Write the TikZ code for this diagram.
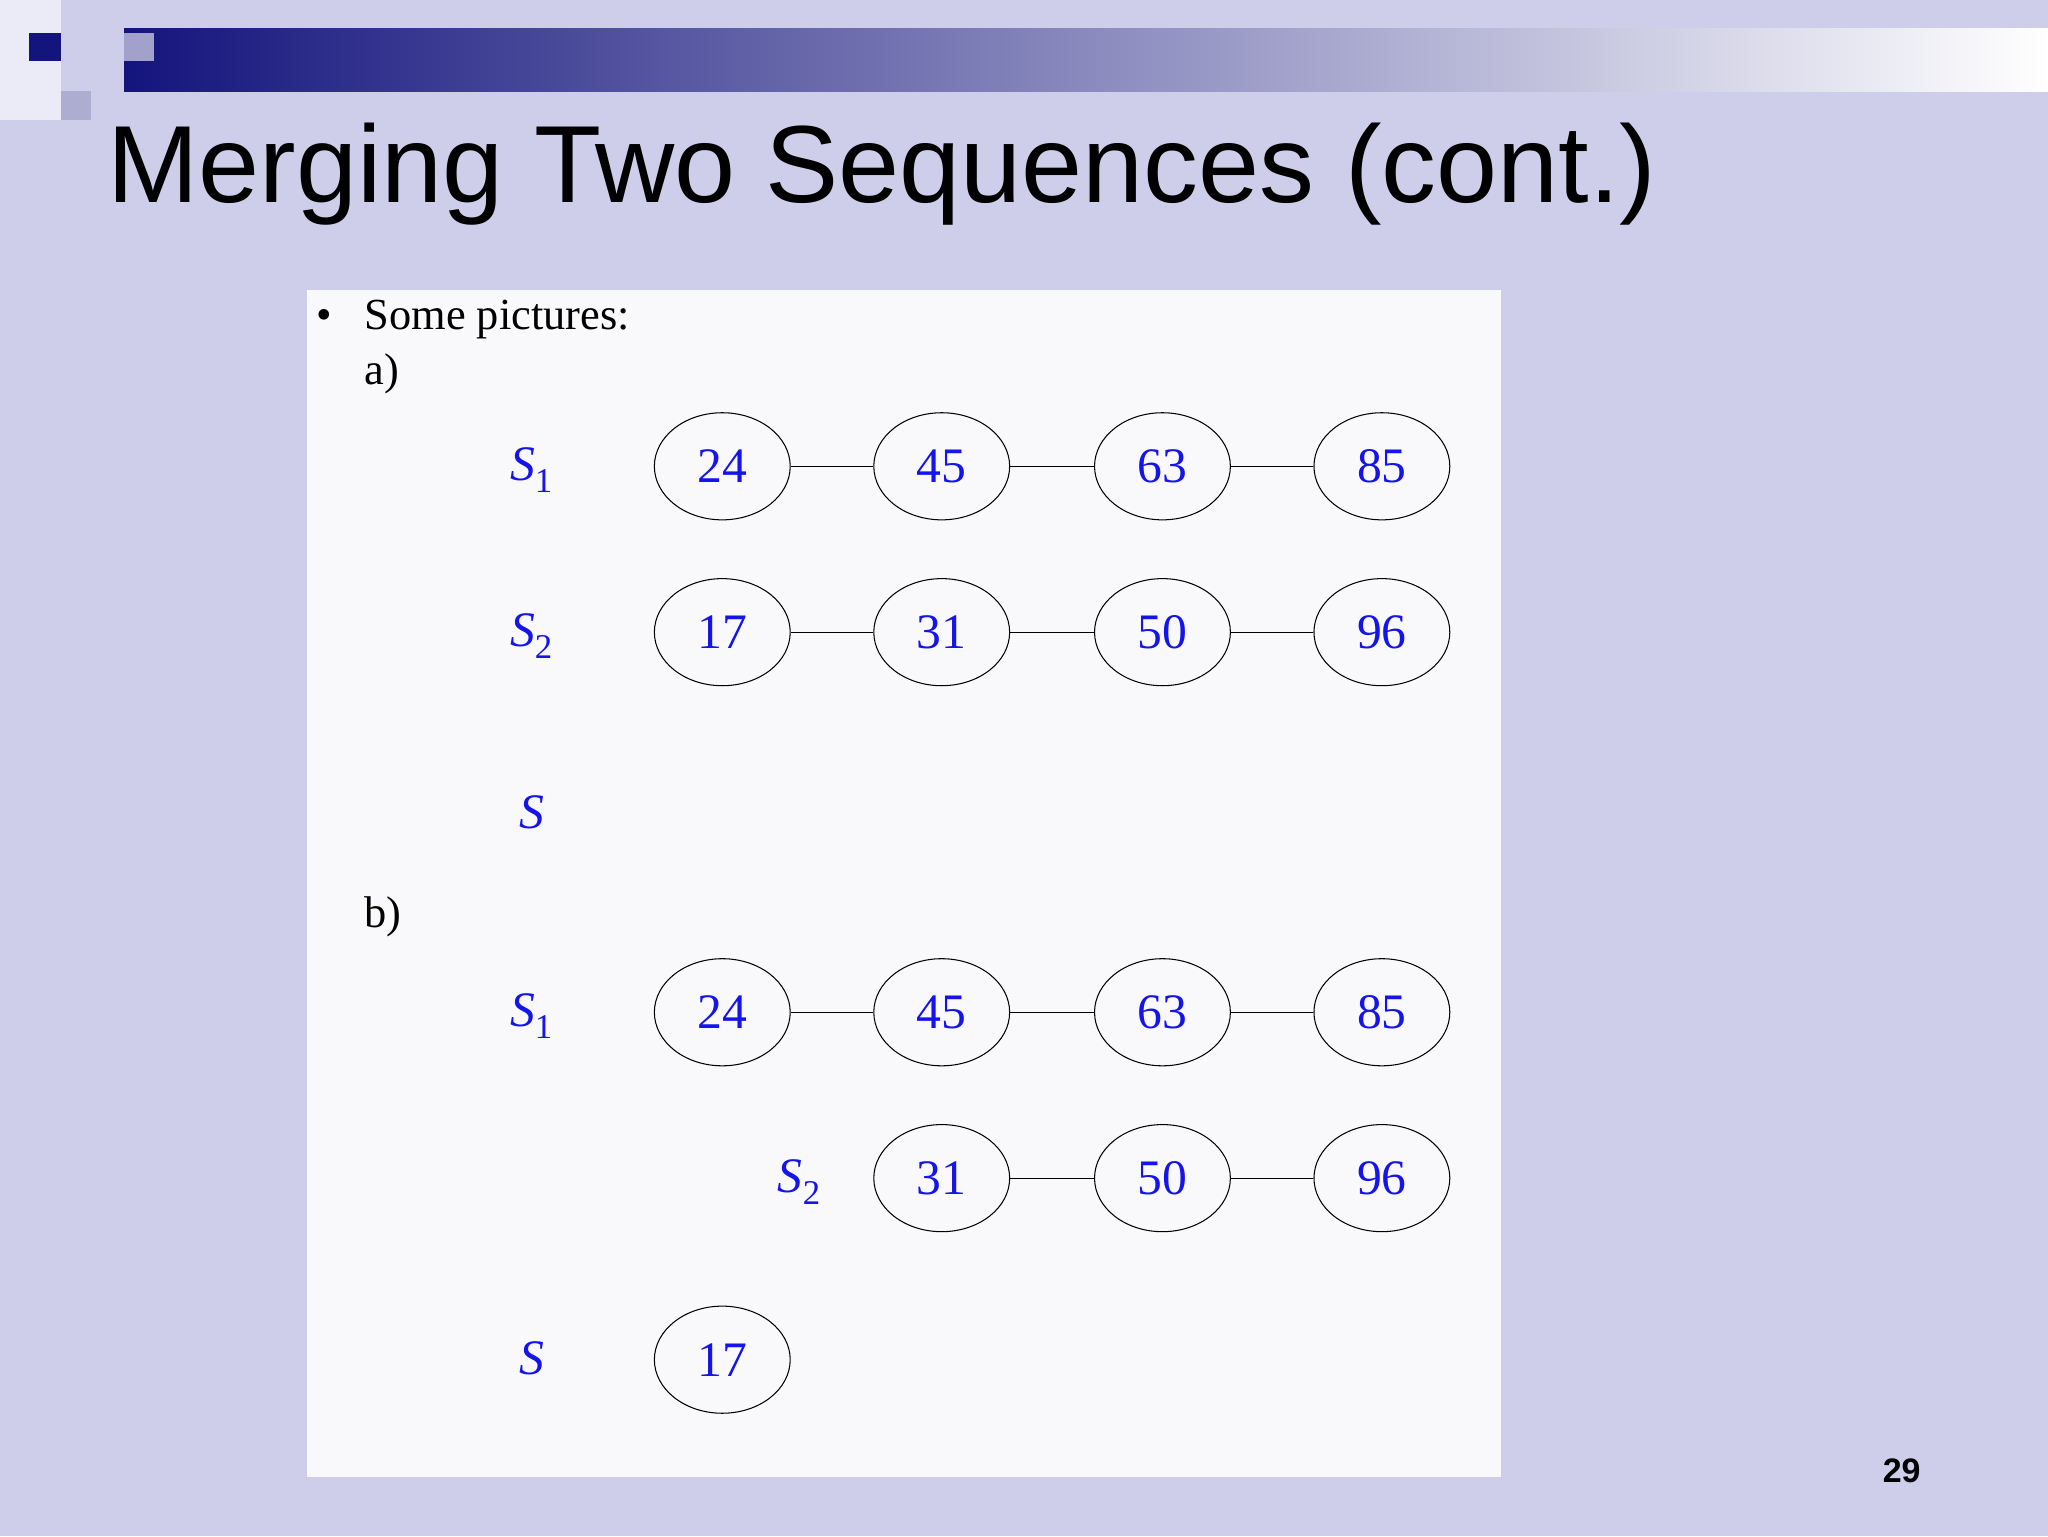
\documentclass[tikz,border=0pt]{standalone}
\usepackage{fontspec}
\setmainfont{Liberation Serif}
\newfontfamily\titlefont{Liberation Sans}
\definecolor{bgc}{RGB}{206,206,234}
\definecolor{navy}{RGB}{20,20,125}
\definecolor{panel}{RGB}{249,249,251}
\definecolor{numblue}{RGB}{20,20,235}
\begin{document}
\begin{tikzpicture}[x=1pt,y=-1pt,
  el/.style={draw,thick,ellipse,minimum width=104pt,minimum height=82pt,inner sep=0pt,font=\fontsize{38}{40}\selectfont,text=numblue},
  lbl/.style={font=\fontsize{38}{40}\selectfont\itshape,text=numblue},
  plain/.style={font=\fontsize{34}{36}\selectfont,anchor=base west}]
\usetikzlibrary{shapes.geometric}
\fill[bgc] (0,0) rectangle (1568,1176);
\useasboundingbox (0,0) rectangle (1568,1176);
\fill[white!60!bgc] (0,0) rectangle (47,92);
\shade[left color=navy,right color=white] (95,22) rectangle (1568,70);
\fill[navy] (22,25) rectangle (47,47);
\fill[navy!40!white] (95,25) rectangle (118,47);
\fill[navy!35!white] (47,70) rectangle (70,92);
\node[anchor=base west,inner sep=0pt,font=\titlefont\fontsize{84}{90}\selectfont] (title) at (82,155) {Merging Two Sequences (cont.)};
\fill[panel] (235,222) rectangle (1149,1131);
\node[plain,inner sep=0pt] (bul) at (242,252) {\textbullet};
\node[plain,inner sep=0pt] (some) at (279,252) {Some pictures:};
\node[plain,inner sep=0pt] (a) at (279,294) {a)};
\node[plain,inner sep=0pt] (b) at (279,710) {b)};
% a
\node[lbl] (la1) at (407,360) {S\textsubscript{\upshape 1}};
\node[lbl] (la2) at (407,487) {S\textsubscript{\upshape 2}};
\node[lbl] (la3) at (407,622) {S};
\foreach \n/\x/\v in {1/553/24,2/721/45,3/890/63,4/1058/85}{\node[el] (a1\n) at (\x,357) {\v};}
\foreach \n/\x/\v in {1/553/17,2/721/31,3/890/50,4/1058/96}{\node[el] (a2\n) at (\x,484) {\v};}
\draw[thick] (a11)--(a12) (a12)--(a13) (a13)--(a14);
\draw[thick] (a21)--(a22) (a22)--(a23) (a23)--(a24);
% b
\node[lbl] (lb1) at (407,778) {S\textsubscript{\upshape 1}};
\node[lbl] (lb2) at (612,905) {S\textsubscript{\upshape 2}};
\node[lbl] (lb3) at (407,1040) {S};
\foreach \n/\x/\v in {1/553/24,2/721/45,3/890/63,4/1058/85}{\node[el] (b1\n) at (\x,775) {\v};}
\foreach \n/\x/\v in {2/721/31,3/890/50,4/1058/96}{\node[el] (b2\n) at (\x,902) {\v};}
\node[el] (b31) at (553,1041) {17};
\draw[thick] (b11)--(b12) (b12)--(b13) (b13)--(b14);
\draw[thick] (b22)--(b23) (b23)--(b24);
\node[font=\titlefont\bfseries\fontsize{26}{28}\selectfont] (pg) at (1456,1126) {29};
\end{tikzpicture}
\end{document}
